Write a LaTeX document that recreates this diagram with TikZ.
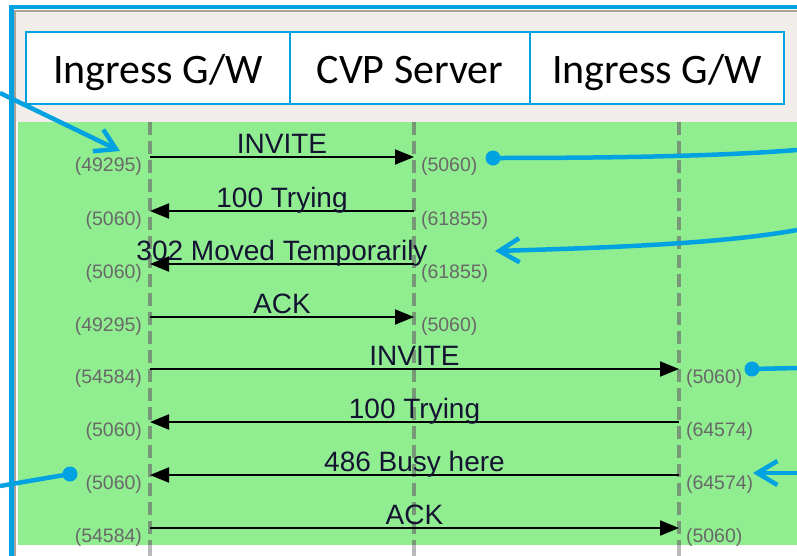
\documentclass[tikz,border=0pt]{standalone}
\usepackage{fontspec}
\setmainfont{Liberation Sans}
\newfontfamily\headfont{Carlito}
\usetikzlibrary{arrows.meta}
\definecolor{bcol}{RGB}{0,162,226}
\definecolor{gcol}{RGB}{144,238,144}
\definecolor{wcol}{RGB}{241,237,235}
\definecolor{ecol}{RGB}{170,164,152}
\definecolor{lcol}{RGB}{118,152,118}
\definecolor{lwcol}{RGB}{185,185,185}
\definecolor{pcol}{RGB}{105,105,105}
\definecolor{mcol}{RGB}{20,20,50}
\tikzset{every picture/.style={x=1pt,y=-1pt}}
\tikzset{hbox/.style={draw=bcol,line width=2pt,fill=white,minimum height=72pt,inner sep=0pt,text height=30pt,text depth=0pt,font=\headfont\fontsize{42}{50}\selectfont}}
\tikzset{life/.style={lcol,line width=3.5pt,dash pattern=on 13pt off 6pt}}
\tikzset{msg/.style={line width=2pt,-{Triangle[length=19pt,width=15pt]}}}
\tikzset{lbl/.style={anchor=base,yshift=3.5pt,inner sep=0pt,text=mcol,font=\fontsize{28}{30}\selectfont}}
\tikzset{lport/.style={anchor=east,xshift=-7pt,yshift=-9pt,inner sep=0pt,text=pcol,font=\fontsize{19.5}{21}\selectfont}}
\tikzset{rport/.style={anchor=west,xshift=6pt,yshift=-9pt,inner sep=0pt,text=pcol,font=\fontsize{19.5}{21}\selectfont}}
\tikzset{callout/.style={bcol,line width=4.5pt}}
\tikzset{barb/.style={-{Straight Barb[length=20pt,width=24pt]}}}
\tikzset{blob/.style={circle,fill=bcol,inner sep=0pt,minimum size=15pt}}

\begin{document}
\begin{tikzpicture}
\useasboundingbox (0,0) rectangle (797,555);
\clip (0,0) rectangle (797,555);

% window
\fill [wcol] (15,11) rectangle (797,122);
\fill [gcol] (18,122) rectangle (797,545);
\draw [ecol,line width=2.5pt] (15,560) -- (15,11) -- (800,11);
\draw [bcol,line width=4.5pt] (11.5,570) -- (11.5,7) -- (810,7);

% lifelines
\coordinate (bot) at (0,545);
\coordinate (end) at (0,560);
\coordinate (gwa) at (150,122);
\coordinate (cvp) at (414,122);
\coordinate (gwb) at (679,122);
\draw [life] (gwa) -- (gwa |- bot);
\draw [life] (cvp) -- (cvp |- bot);
\draw [life] (gwb) -- (gwb |- bot);
\draw [life,lwcol] (gwa |- bot) -- (gwa |- end);
\draw [life,lwcol] (cvp |- bot) -- (cvp |- end);
\draw [life,lwcol] (gwb |- bot) -- (gwb |- end);

% messages
\coordinate (r1) at (0,157);
\coordinate (r2) at (0,211);
\coordinate (r3) at (0,264);
\coordinate (r4) at (0,317);
\coordinate (r5) at (0,369);
\coordinate (r6) at (0,422);
\coordinate (r7) at (0,475);
\coordinate (r8) at (0,528);

\draw [msg] (gwa |- r1) node [lport] {(49295)} -- node [lbl] {INVITE} (cvp |- r1) node [rport] {(5060)};
\draw [msg] (cvp |- r2) node [rport] {(61855)} -- node [lbl] {100 Trying} (gwa |- r2) node [lport] {(5060)};
\draw [msg] (cvp |- r3) node [rport] {(61855)} -- node [lbl] {302 Moved Temporarily} (gwa |- r3) node [lport] {(5060)};
\draw [msg] (gwa |- r4) node [lport] {(49295)} -- node [lbl] {ACK} (cvp |- r4) node [rport] {(5060)};
\draw [msg] (gwa |- r5) node [lport] {(54584)} -- node [lbl] {INVITE} (gwb |- r5) node [rport] {(5060)};
\draw [msg] (gwb |- r6) node [rport] {(64574)} -- node [lbl] {100 Trying} (gwa |- r6) node [lport] {(5060)};
\draw [msg] (gwb |- r7) node [rport] {(64574)} -- node [lbl] {486 Busy here} (gwa |- r7) node [lport] {(5060)};
\draw [msg] (gwa |- r8) node [lport] {(54584)} -- node [lbl] {ACK} (gwb |- r8) node [rport] {(5060)};

% header
\node [hbox,minimum width=264pt] (hgwa) at (158,68) {Ingress G/W};
\node [hbox,minimum width=240pt] (hcvp) at (410,68) {CVP Server};
\node [hbox,minimum width=254pt] (hgwb) at (657,68) {Ingress G/W};

% callouts
\coordinate (c1) at (0,93);
\coordinate (a1) at (120,151);
\draw [callout,barb] (c1) -- (a1);

\node [blob] (d2) at (493,158) {};
\coordinate (c2) at (797,150);
\draw [callout] (d2.center) .. controls (620,158) and (720,156) .. (c2);

\coordinate (c3) at (797,230);
\coordinate (a3) at (495,251);
\draw [callout,barb] (c3) .. controls (720,244) and (600,248) .. (a3);

\node [blob] (d4) at (752,369) {};
\coordinate (c4) at (797,368);
\draw [callout] (d4.center) -- (c4);

\coordinate (c5) at (797,473);
\coordinate (a5) at (753,473);
\draw [callout,barb] (c5) -- (a5);

\node [blob] (d6) at (70,474) {};
\coordinate (c6) at (0,486);
\draw [callout] (c6) -- (d6.center);
\end{tikzpicture}
\end{document}
